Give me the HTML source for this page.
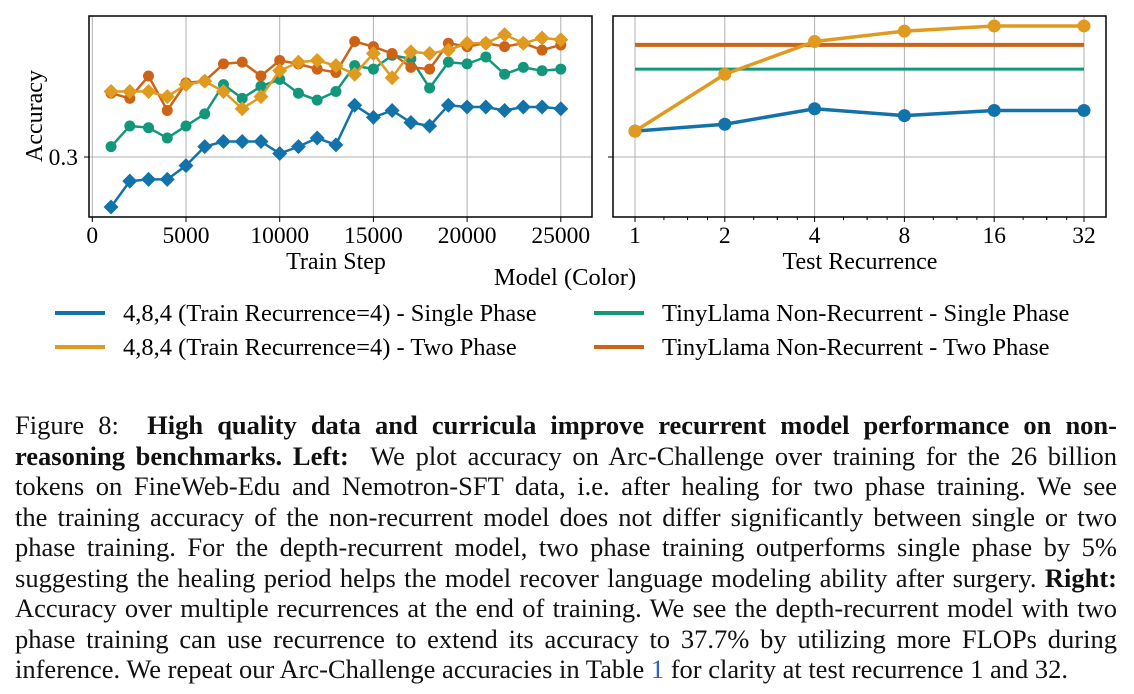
<!DOCTYPE html>
<html><head><meta charset="utf-8"><style>
body{margin:0;width:1134px;height:694px;overflow:hidden;background:#fff;font-family:"Liberation Serif",serif;}
#cap{position:absolute;left:15px;top:410px;width:1102px;font-size:26.5px;line-height:30.5px;color:#111;}
#cap div{text-align:justify;text-align-last:justify;white-space:nowrap;height:30.5px;}
#cap div.last{text-align-last:left;}
</style></head><body>
<svg id="chart" width="1134" height="400" style="position:absolute;left:0;top:0" font-family="'Liberation Serif', serif"></svg>
<div id="cap">
<div>Figure 8: &nbsp;<b>High quality data and curricula improve recurrent model performance on non-</b></div>
<div><b>reasoning benchmarks. Left:</b> &nbsp;We plot accuracy on Arc-Challenge over training for the 26 billion</div>
<div>tokens on FineWeb-Edu and Nemotron-SFT data, i.e. after healing for two phase training. We see</div>
<div>the training accuracy of the non-recurrent model does not differ significantly between single or two</div>
<div>phase training. For the depth-recurrent model, two phase training outperforms single phase by 5%</div>
<div>suggesting the healing period helps the model recover language modeling ability after surgery. <b>Right:</b></div>
<div>Accuracy over multiple recurrences at the end of training. We see the depth-recurrent model with two</div>
<div>phase training can use recurrence to extend its accuracy to 37.7% by utilizing more FLOPs during</div>
<div class="last">inference. We repeat our Arc-Challenge accuracies in Table <span style="color:#3060c0">1</span> for clarity at test recurrence 1 and 32.</div>
</div>
<script>
const steps=[1000,2000,3000,4000,5000,6000,7000,8000,9000,10000,11000,12000,13000,14000,15000,16000,17000,18000,19000,20000,21000,22000,23000,24000,25000];
const blueSingle=[.271,.286,.287,.287,.295,.306,.309,.309,.309,.302,.306,.311,.307,.330,.323,.327,.320,.318,.330,.329,.329,.327,.329,.329,.328];
const greenSingle=[.306,.318,.317,.311,.318,.325,.342,.334,.341,.345,.337,.333,.338,.353,.351,.359,.357,.340,.355,.354,.358,.348,.352,.350,.351];
const orangeTwo=[.337,.334,.347,.327,.343,.344,.354,.355,.347,.356,.354,.351,.349,.367,.364,.360,.352,.351,.366,.364,.366,.364,.366,.362,.365];
const goldTwo=[.338,.338,.338,.335,.342,.344,.338,.328,.335,.350,.355,.356,.353,.348,.360,.346,.361,.360,.362,.366,.366,.371,.366,.369,.368];
const recurrences=[1,2,4,8,16,32];
const recBlue=[.315,.319,.328,.324,.327,.327];
const recGold=[.315,.348,.367,.373,.376,.376];
const tinySingle=.351, tinyTwo=.365;
const xTicksL=[0,5000,10000,15000,20000,25000];
const C={blue:'#1273ab',green:'#13977a',orange:'#cc6316',gold:'#df9a1f'};
const svg=document.getElementById('chart');
const NS='http://www.w3.org/2000/svg';
function el(t,a,p){const e=document.createElementNS(NS,t);for(const k in a)e.setAttribute(k,a[k]);(p||svg).appendChild(e);return e;}
const yS=v=>157-(v-0.3)/0.00058;
const xL=v=>92.3+v*(93.7/5000);
const xR=v=>635+Math.log2(v)*89.8;
let g=el('g',{});
xTicksL.forEach(t=>{el('line',{x1:xL(t),x2:xL(t),y1:16,y2:217,stroke:'#b0b0b0','stroke-width':1},g);
el('line',{x1:xL(t),x2:xL(t),y1:217,y2:222,stroke:'#000'},g);
const tx=el('text',{x:xL(t),y:243,'text-anchor':'middle','font-size':23.5},g);tx.textContent=t;
});
el('line',{x1:89,x2:592,y1:yS(0.3),y2:yS(0.3),stroke:'#b0b0b0'},g);
el('line',{x1:84,x2:89,y1:yS(0.3),y2:yS(0.3),stroke:'#000'},g);
let t=el('text',{x:78,y:yS(0.3)+8,'text-anchor':'end','font-size':23.5},g);t.textContent='0.3';

t=el('text',{x:0,y:0,'text-anchor':'middle','font-size':24,transform:'translate(42,116) rotate(-90)'},g);t.textContent='Accuracy';

t=el('text',{x:336,y:269,'text-anchor':'middle','font-size':24},g);t.textContent='Train Step';

function series(xs,ys,xf,col,marker,name,lw,r){
 const s=el('g',{});
 el('polyline',{points:xs.map((x,i)=>xf(x)+','+yS(ys[i])).join(' '),fill:'none',stroke:col,'stroke-width':lw},s);
 xs.forEach((x,i)=>{const cx=xf(x),cy=yS(ys[i]);let m;
  if(marker==='d')m=el('polygon',{points:`${cx},${cy-r} ${cx+r},${cy} ${cx},${cy+r} ${cx-r},${cy}`,fill:col},s);
  else m=el('circle',{cx,cy,r,fill:col},s);
  });
}
series(steps,greenSingle,xL,C.green,'o','tinyllama-single-series',2.5,5.5);
series(steps,orangeTwo,xL,C.orange,'o','tinyllama-two-series',2.5,5.5);
series(steps,goldTwo,xL,C.gold,'d','recurrent-two-series',2.5,7.5);
series(steps,blueSingle,xL,C.blue,'d','recurrent-single-series',2.5,7.5);
el('rect',{x:89,y:16,width:503,height:201,fill:'none',stroke:'#000','stroke-width':1.5},g);
let g2=el('g',{});
recurrences.forEach(r=>{el('line',{x1:xR(r),x2:xR(r),y1:16,y2:217,stroke:'#b0b0b0'},g2);
el('line',{x1:xR(r),x2:xR(r),y1:217,y2:222,stroke:'#000'},g2);
const tx=el('text',{x:xR(r),y:243,'text-anchor':'middle','font-size':23.5},g2);tx.textContent=r;
});
for(let o=0;o<6;o++)for(let k=3;k<8;k+=1){if(k%2===0&&k!==6)continue;const v=Math.pow(2,o)*k/4;if(v>1&&v<40&&Math.log2(v)%1)el('line',{x1:xR(v),x2:xR(v),y1:217,y2:220,stroke:'#000'},g2);}
el('line',{x1:613,x2:1106,y1:yS(0.3),y2:yS(0.3),stroke:'#b0b0b0'},g2);
el('line',{x1:608,x2:613,y1:yS(0.3),y2:yS(0.3),stroke:'#000'},g2);
t=el('text',{x:860,y:269,'text-anchor':'middle','font-size':24},g2);t.textContent='Test Recurrence';

let h=el('line',{x1:xR(1),x2:xR(32),y1:yS(tinyTwo),y2:yS(tinyTwo),stroke:C.orange,'stroke-width':4});

h=el('line',{x1:xR(1),x2:xR(32),y1:yS(tinySingle),y2:yS(tinySingle),stroke:C.green,'stroke-width':3});

series(recurrences,recBlue,xR,C.blue,'o','recurrence-single-series',3.5,6.5);
series(recurrences,recGold,xR,C.gold,'o','recurrence-two-series',3.5,6.5);
el('rect',{x:613,y:16,width:493,height:201,fill:'none',stroke:'#000','stroke-width':1.5},g2);
const lg=el('g',{});
t=el('text',{x:565,y:285,'text-anchor':'middle','font-size':24.5},lg);t.textContent='Model (Color)';

const items=[[55,313,C.blue,'4,8,4 (Train Recurrence=4) - Single Phase'],[55,347,C.gold,'4,8,4 (Train Recurrence=4) - Two Phase'],[594,313,C.green,'TinyLlama Non-Recurrent - Single Phase'],[594,347,C.orange,'TinyLlama Non-Recurrent - Two Phase']];
items.forEach(([x,y,c,s])=>{const e=el('g',{},lg);
el('line',{x1:x,x2:x+50,y1:y,y2:y,stroke:c,'stroke-width':4},e);
const tt=el('text',{x:x+68,y:y+8,'font-size':24.5},e);tt.textContent=s;});
</script>
</body></html>
